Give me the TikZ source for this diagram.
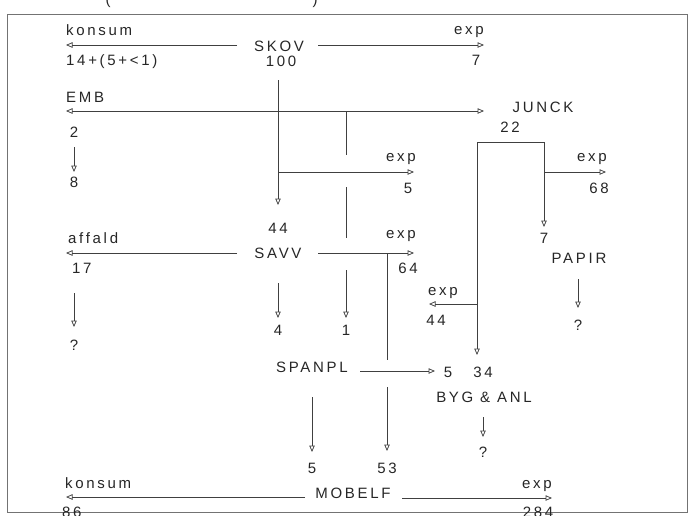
\documentclass[tikz,border=0pt]{standalone}
\usepackage{fontspec}
\setmainfont{Liberation Sans}[LetterSpace=18]
\usetikzlibrary{arrows.meta}
\begin{document}
\begin{tikzpicture}[x=1pt,y=-1pt,
  txt/.style={font=\fontsize{15}{18}\selectfont, text=black!85, inner sep=0pt},
  ctr/.style={txt, anchor=base},
  lft/.style={txt, anchor=base west},
  ln/.style={line width=0.75pt, draw=black!75},
  arr/.style={ln, -{Triangle[open,length=6.5pt,width=5.5pt]}},
  frame/.style={line width=0.8pt, draw=black!55}]
\useasboundingbox (0,0) rectangle (691,515);
\clip (0,0) rectangle (691,515);
\draw[frame] (7,14) rectangle (687,512);
\node[ctr] (lpar) at (108,4) {(};
\node[ctr] (rpar) at (315,4) {)};
% ---- SKOV row
\node[lft] (kons1) at (66,35) {konsum};
\node[lft] (kons1v) at (66,65) {14+(5+<1)};
\node[ctr] (skov) at (279,51) {SKOV};
\node[ctr] (skov100) at (281,66) {100};
\node[ctr] (exp1) at (469,34) {exp};
\node[ctr] (exp1v) at (476,65) {7};
\coordinate (k1a) at (237,45); \coordinate (k1b) at (66,45);
\coordinate (e1a) at (318,45); \coordinate (e1b) at (484,45);
\draw[arr] (k1a) -- (k1b);
\draw[arr] (e1a) -- (e1b);
% ---- EMB / JUNCK
\node[lft] (emb) at (66,102) {EMB};
\node[ctr] (junck) at (543,112) {JUNCK};
\node[ctr] (junck22) at (510,132) {22};
\coordinate (j1) at (346,111);
\coordinate (embtip) at (66,111);
\coordinate (junktip) at (484,111);
\draw[arr] (j1) -- (embtip);
\draw[arr] (j1) -- (junktip);
\node[ctr] (emb2) at (74,137) {2};
\node[ctr] (emb8) at (74,187) {8};
\coordinate (e2a) at (74,147); \coordinate (e2b) at (74,172);
\draw[arr] (e2a) -- (e2b);
% SKOV down to SAVV
\coordinate (sk1) at (278,80); \coordinate (sk2) at (278,205);
\coordinate (sk3) at (278,172); \coordinate (sk4) at (414,172);
\draw[arr] (sk1) -- (sk2);
\draw[arr] (sk3) -- (sk4);
\node[ctr] (exp5) at (401,161) {exp};
\node[ctr] (exp5v) at (408,193) {5};
% EMB down to 1 (with gaps at crossings)
\coordinate (v1a) at (346,155); \coordinate (v1b) at (346,187);
\coordinate (v1c) at (346,238); \coordinate (v1d) at (346,270);
\coordinate (v1e) at (346,318);
\draw[ln] (j1) -- (v1a);
\draw[ln] (v1b) -- (v1c);
\draw[arr] (v1d) -- (v1e);
\node[ctr] (one) at (346,335) {1};
% JUNCK bracket
\coordinate (jl) at (477,142); \coordinate (jr) at (544,142);
\coordinate (p7tip) at (544,227); \coordinate (b34tip) at (477,355);
\draw[ln] (jl) -- (jr);
\draw[arr] (jr) -- (p7tip);
\draw[arr] (jl) -- (b34tip);
\coordinate (e68a) at (544,172); \coordinate (e68b) at (606,172);
\draw[arr] (e68a) -- (e68b);
\node[ctr] (exp68) at (592,161) {exp};
\node[ctr] (exp68v) at (599,193) {68};
\coordinate (e44a) at (477,304); \coordinate (e44b) at (429,304);
\draw[arr] (e44a) -- (e44b);
\node[ctr] (exp44) at (443,295) {exp};
\node[ctr] (exp44v) at (436,325) {44};
% PAPIR
\node[ctr] (pap7) at (544,243) {7};
\node[ctr] (papir) at (579,263) {PAPIR};
\coordinate (pa) at (578,279); \coordinate (pb) at (578,308);
\draw[arr] (pa) -- (pb);
\node[ctr] (papq) at (578,330) {?};
% ---- SAVV row
\node[ctr] (savv44) at (278,233) {44};
\node[ctr] (savv) at (278,258) {SAVV};
\node[lft] (affald) at (68,243) {affald};
\node[lft] (aff17) at (72,273) {17};
\coordinate (afa) at (237,253); \coordinate (afb) at (66,253);
\draw[arr] (afa) -- (afb);
\coordinate (s64a) at (318,253); \coordinate (s64b) at (414,253);
\draw[arr] (s64a) -- (s64b);
\node[ctr] (exp64) at (401,238) {exp};
\node[ctr] (exp64v) at (408,273) {64};
\coordinate (aq1) at (74,293); \coordinate (aq2) at (74,327);
\draw[arr] (aq1) -- (aq2);
\node[ctr] (affq) at (74,350) {?};
\coordinate (s4a) at (278,283); \coordinate (s4b) at (278,318);
\draw[arr] (s4a) -- (s4b);
\node[ctr] (four) at (278,335) {4};
% vertical SAVV -> 53
\coordinate (m1) at (387,253); \coordinate (m2) at (387,360);
\coordinate (m3) at (387,387); \coordinate (m4) at (387,451);
\draw[ln] (m1) -- (m2);
\draw[arr] (m3) -- (m4);
\node[ctr] (fiftythree) at (387,473) {53};
% ---- SPANPL
\node[ctr] (spanpl) at (312,372) {SPANPL};
\coordinate (sp1) at (360,371); \coordinate (sp2) at (435,371);
\draw[arr] (sp1) -- (sp2);
\node[ctr] (by5) at (448,377) {5};
\node[ctr] (by34) at (483,377) {34};
\node[ctr] (byg) at (484,402) {BYG \& ANL};
\coordinate (bq1) at (483,417); \coordinate (bq2) at (483,437);
\draw[arr] (bq1) -- (bq2);
\node[ctr] (bygq) at (483,457) {?};
\coordinate (sp5a) at (312,397); \coordinate (sp5b) at (312,452);
\draw[arr] (sp5a) -- (sp5b);
\node[ctr] (sp5) at (312,473) {5};
% ---- MOBELF
\node[ctr] (mobelf) at (353,498) {MOBELF};
\node[lft] (kons2) at (65,488) {konsum};
\node[ctr] (exp2) at (537,488) {exp};
\node[lft] (kons2v) at (62,517) {86};
\node[ctr] (exp2v) at (538,517) {284};
\coordinate (mk1) at (305,497); \coordinate (mk2) at (66,497);
\coordinate (me1) at (402,498); \coordinate (me2) at (552,498);
\draw[arr] (mk1) -- (mk2);
\draw[arr] (me1) -- (me2);
\end{tikzpicture}
\end{document}
